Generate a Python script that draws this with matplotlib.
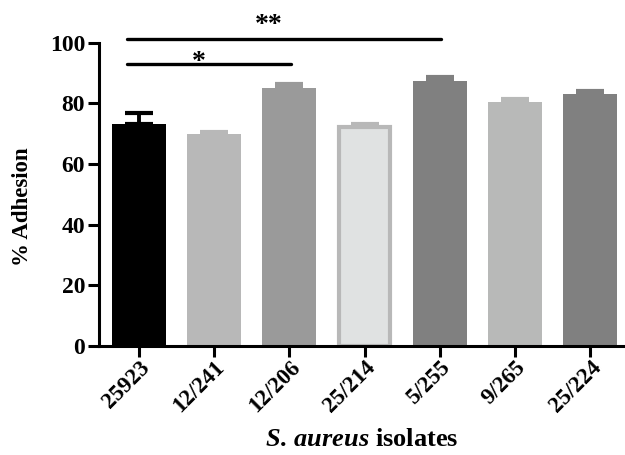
import numpy as np
import matplotlib
matplotlib.use("Agg")
import matplotlib.pyplot as plt

plt.rcParams['font.family'] = ['Liberation Serif', 'DejaVu Serif']
plt.rcParams['font.weight'] = 'bold'
plt.rcParams['mathtext.fontset'] = 'custom'
plt.rcParams['mathtext.it'] = 'Liberation Serif:bold:italic'
plt.rcParams['mathtext.rm'] = 'Liberation Serif:bold'

isolates = ["25923", "12/241", "12/206", "25/214", "5/255", "9/265", "25/224"]
adhesion = [73.2, 69.8, 85.0, 72.3, 87.4, 80.4, 83.2]
sem = [3.5, 0.6, 1.5, 0.8, 1.3, 1.2, 1.0]
fills = ["#000000", "#b8b8b8", "#9a9a9a", "#e0e2e2", "#808080", "#b8b9b8", "#808080"]
edges = ["#000000", "#b8b8b8", "#9a9a9a", "#b8b8b8", "#808080", "#b8b9b8", "#808080"]

# significance brackets: (x start, x end, line y, star x, star y, label)
sig = [(-0.16, 2.02, 92.9, 0.8, 89.5, "*"),
       (-0.16, 4.02, 101.1, 1.73, 101.5, "**")]

fig = plt.figure(figsize=(6.25, 4.55), dpi=100)
ax = fig.add_axes([0.1584, 0.240, 0.8416, 0.666])

x = np.arange(len(isolates))
for i in x:
    ax.errorbar(i, adhesion[i], yerr=[[0], [sem[i]]], color=edges[i],
                elinewidth=2.8, capsize=10, capthick=3, zorder=1)
    lw = 3 if fills[i] != edges[i] else 0
    ax.bar(i, adhesion[i], width=0.72 if lw == 0 else 0.68, color=fills[i],
           edgecolor=edges[i], linewidth=lw, zorder=2)

for x0, x1, ly, sx, sy, lab in sig:
    ax.plot([x0, x1], [ly, ly], color="black", lw=2.4, clip_on=False,
            solid_capstyle="round")
    ax.text(sx, sy, lab, ha="center", va="bottom", fontsize=20,
            fontweight="bold", clip_on=False)

ax.set_xlim(-0.53, 6.46)
ax.set_ylim(0, 100)
ax.set_yticks([0, 20, 40, 60, 80, 100])
ax.set_xticks(x)
ax.set_xticklabels(isolates, rotation=45, ha="right", rotation_mode="anchor",
                   fontsize=16.5, fontweight="bold")
ax.tick_params(axis="y", labelsize=17, width=2.2, length=8, pad=2)
ax.tick_params(axis="x", width=2.2, length=8, pad=0)
for lbl in ax.get_yticklabels():
    lbl.set_fontweight("bold")

for s in ["top", "right"]:
    ax.spines[s].set_visible(False)
for s in ["left", "bottom"]:
    ax.spines[s].set_linewidth(2.2)

ax.set_ylabel("% Adhesion", fontsize=16.5, fontweight="bold", labelpad=10)
ax.yaxis.set_label_coords(-0.125, 0.46)
ax.set_xlabel(r"$\mathit{S.\,aureus}$ isolates", fontsize=19,
              fontweight="bold", labelpad=8)

fig.savefig("out.png", dpi=100)
